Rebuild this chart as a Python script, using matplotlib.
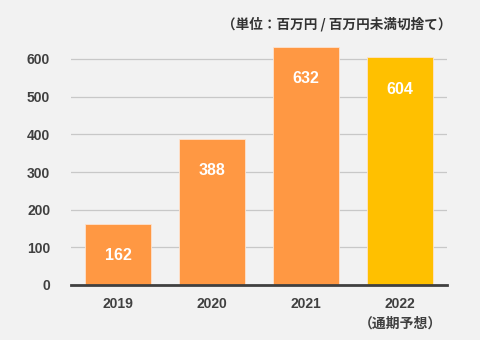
import matplotlib.pyplot as plt

plt.rcParams['font.family'] = ['Liberation Sans', 'Noto Sans CJK JP', 'DejaVu Sans']

# 売上高（百万円）
years = ['2019', '2020', '2021', '2022\n（通期予想）']
values = [162, 388, 632, 604]
colors = ['#ff9843', '#ff9843', '#ff9843', '#ffc000']

bg = '#f2f2f2'
text_color = '#404040'

fig = plt.figure(figsize=(4.8, 3.4), dpi=100, facecolor=bg)
ax = fig.add_axes([71 / 480, 55 / 340, 376 / 480, 238 / 340])
ax.set_facecolor(bg)

x = range(len(years))
bars = ax.bar(x, values, width=0.7, color=colors, edgecolor='#fde3cf',
              linewidth=0.6, zorder=3)

# 値ラベルは棒の上端から少し下に
for xi, v in zip(x, values):
    ax.annotate(str(v), (xi, v), xytext=(0, -32), textcoords='offset pixels',
                ha='center', va='center', color='white',
                fontsize=11.5, fontweight='bold', zorder=4)

ax.set_xlim(-0.5, len(years) - 0.5)
ax.set_ylim(0, 600 * 238 / 226)
ax.set_yticks(range(0, 700, 100))
ax.yaxis.grid(True, color='#c8c8c8', linewidth=0.9, zorder=0)
ax.set_axisbelow(True)

for side in ['top', 'right', 'left']:
    ax.spines[side].set_visible(False)
ax.spines['bottom'].set_color(text_color)
ax.spines['bottom'].set_linewidth(2)
ax.spines['bottom'].set_zorder(5)

ax.set_xticks(list(x))
ax.set_xticklabels(years, fontsize=10, fontweight='bold', color=text_color,
                   linespacing=1.5, va='top')
ax.tick_params(axis='x', length=0, pad=9)
ax.tick_params(axis='y', length=0, pad=15, labelsize=10, labelcolor=text_color)
for lbl in ax.get_yticklabels():
    lbl.set_fontweight('bold')

fig.text(452 / 480, 1 - 24 / 340, '（単位：百万円 / 百万円未満切捨て）',
         ha='right', va='center', fontsize=9.8, fontweight='bold',
         color='#333333', family=['Noto Sans CJK JP', 'DejaVu Sans'])

fig.savefig('out.png', dpi=100, facecolor=bg)
